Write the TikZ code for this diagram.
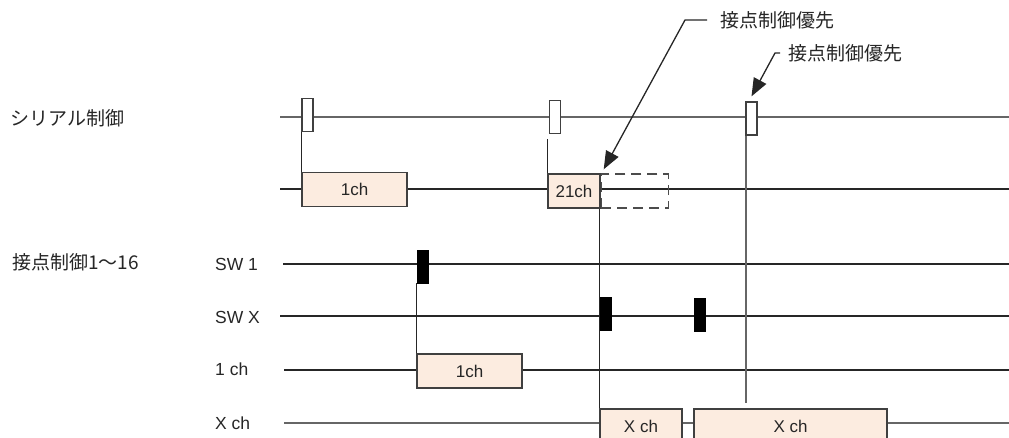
\documentclass[tikz,border=0pt]{standalone}
\usepackage{fontspec}
\setmainfont{Liberation Sans}
\newfontfamily\jpfont{Noto Sans CJK JP}
\usetikzlibrary{arrows.meta,positioning}
\definecolor{chfill}{HTML}{FCECE0}
\definecolor{ink}{HTML}{262626}

\begin{document}
\begin{tikzpicture}[x=1pt,y=-1pt,
    tl/.style={line width=1.4pt,draw=black!85},
    gtl/.style={line width=1.8pt,draw=black!60},
    chbox/.style={draw=black!75,fill=chfill,line width=1.4pt,inner sep=0,minimum height=34pt,text=ink,font=\fontsize{17}{19}\selectfont},
    spulse/.style={draw=black!75,fill=white,line width=1.3pt,inner sep=0,minimum width=11pt,minimum height=33pt},
    cpulse/.style={draw=black,fill=black,line width=0.8pt,inner sep=0,minimum width=11pt,minimum height=33pt},
    lbl/.style={anchor=west,inner sep=0,text=ink,font=\fontsize{17.5}{20}\selectfont},
    jlbl/.style={anchor=west,inner sep=0,text=ink,font=\jpfont\fontsize{19}{22}\selectfont},
    callout/.style={line width=1.3pt,draw=black!85,-{Triangle[length=18pt,width=14pt]}}]
  \clip (0,0) rectangle (1009,437);
  \node[jlbl] (serial) at (10,118) {シリアル制御};
  \node[jlbl] (contact) at (12,262) {接点制御1〜16};
  \node[lbl] (sw1) at (215,264) {SW 1};
  \node[lbl] (swx) at (215,317) {SW X};
  \node[lbl] (ch1) at (215,369) {1 ch};
  \node[lbl] (chx) at (215,423) {X ch};
  \draw[gtl] (280,117) -- (1009,117);
  \draw[tl] (280,189) -- (1009,189);
  \draw[tl] (283,264) -- (1009,264);
  \draw[tl] (280,316) -- (1009,316);
  \draw[tl] (284,370) -- (1009,370);
  \draw[gtl] (284,423) -- (1009,423);
  \node[spulse] (sp1) at (307.5,115) {};
  \node[spulse] (sp2) at (555,117) {};
  \node[spulse] (sp3) at (751.5,118.5) {};
  \node[chbox,minimum width=105pt] (sb1) at (354.5,189.5) {1ch};
  \node[chbox,minimum width=52pt] (sb21) at (574,191) {21ch};
  \node[draw=black!70,line width=1.3pt,dash pattern=on 10pt off 6pt,inner sep=0,
        minimum width=67pt,minimum height=34pt,anchor=west] (sbx) at (sb21.east) {};
  \node[cpulse] (cp1) at (423,266.5) {};
  \node[cpulse] (cp2) at (605.5,313.5) {};
  \node[cpulse] (cp3) at (699.5,315) {};
  \node[chbox,minimum width=105pt] (cb1) at (469.5,371) {1ch};
  \node[chbox,minimum width=82pt,minimum height=35pt] (cbx1) at (641,426.5) {X ch};
  \node[chbox,minimum width=193pt,minimum height=35pt] (cbx2) at (790.5,426.5) {X ch};
  \coordinate (p3end) at (746,403);
  \draw[tl] (sb1.north west |- sp1.south) -- (sb1.north west);
  \draw[tl] ([yshift=-5pt]sb21.north west |- sp2.south) -- (sb21.north west);
  \draw[tl] (cb1.north west |- cp1.south) -- (cb1.north west);
  \draw[tl] (cbx1.north west |- sb21.south) -- (cbx1.north west);
  \draw[gtl] (p3end |- sp3.south) -- (p3end);
  \node[jlbl] (ann1) at (720,20) {接点制御優先};
  \node[jlbl] (ann2) at (788,53) {接点制御優先};
  \draw[callout] ([xshift=-13pt]ann1.west) -- ([xshift=-35pt]ann1.west) -- ([shift={(3pt,4pt)}]sb21.north east);
  \draw[callout] ([xshift=-8pt]ann2.west) -- ([xshift=-13pt]ann2.west) -- ([yshift=5pt]sp3.north);
\end{tikzpicture}
\end{document}
